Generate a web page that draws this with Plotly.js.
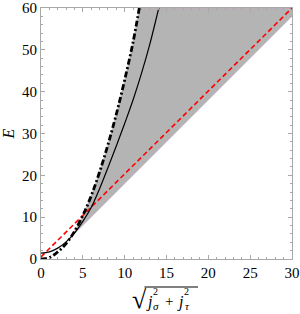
<!DOCTYPE html>
<html>
<head>
<meta charset="utf-8">
<script src="https://cdn.plot.ly/plotly-3.0.1.min.js"></script>
<style>html,body{margin:0;padding:0;background:#fff;}#chart{width:300px;height:314px;}</style>
</head>
<body>
<div id="chart"></div>
<script>
// Upper boundary (dash-dot curve)
const ddJ = [0, 0.5, 1, 1.5, 2, 2.5, 3, 3.5, 4, 5, 6, 7, 8, 9, 10, 11, 11.75];
const ddE = [0, 0.08, 0.35, 0.9, 1.7, 2.6, 3.7, 5.0, 6.6, 10.4, 15.1, 20.8, 27.3, 34.6, 42.8, 51.8, 60];
// Solid black curve
const solidJ = [0, 1, 2, 3, 4, 5, 6, 7, 8, 9, 10, 11, 12, 13, 14, 14.1];
const solidE = [1.4, 1.7, 2.6, 4.1, 6.2, 9.0, 12.3, 16.8, 21.8, 27.0, 32.4, 38.0, 44.3, 51.3, 59.3, 60];
// Red dashed line
const redJ = [0, 30];
const redE = [0.5, 60];
// Lower edge of the shaded region
const lowJ = [3.5, 30];
const lowE = [5.0, 58];
const topE = 60;
// Axis ticks
const xTicks = [0, 5, 10, 15, 20, 25, 30];
const yTicks = [0, 10, 20, 30, 40, 50, 60];

// shaded polygon
const polyJ = [], polyE = [];
for (let i = 0; i < ddJ.length; i++) {
  if (ddJ[i] >= lowJ[0]) { polyJ.push(ddJ[i]); polyE.push(ddE[i]); }
}
polyJ.push(lowJ[1]); polyE.push(topE);
polyJ.push(lowJ[1]); polyE.push(lowE[1]);
polyJ.push(lowJ[0]); polyE.push(lowE[0]);

const traces = [
  {x: polyJ, y: polyE, mode: 'lines', fill: 'toself', fillcolor: 'rgb(180,180,180)',
   line: {color: 'rgba(200,160,200,0.8)', width: 0.6}, hoverinfo: 'skip'},
  {x: redJ, y: redE, mode: 'lines', line: {color: 'rgb(255,0,0)', width: 1.6, dash: '5px,3px'}},
  {x: solidJ, y: solidE, mode: 'lines', line: {color: 'black', width: 1.2, shape: 'spline'}},
  {x: ddJ, y: ddE, mode: 'lines', line: {color: 'black', width: 2.8, dash: '6px,2.5px,2px,2.5px', shape: 'spline'}}
];

const serif = 'Liberation Serif';
const axisCommon = {
  showline: true, linecolor: '#a8a8a8', linewidth: 1, mirror: 'ticks',
  ticks: 'inside', ticklen: 4, tickwidth: 1, tickcolor: '#a8a8a8',
  showgrid: false, zeroline: false, fixedrange: true,
  ticklabeloverflow: 'allow',
  tickfont: {family: serif, size: 15, color: 'black'}
};

// pixel -> paper helpers (plot area: x 41..292, y 8..259)
const px = X => (X - 41) / 251;
const py = Y => (259 - Y) / 251;

const ann = (X, Y, text, size, italic) => ({
  xref: 'paper', yref: 'paper', x: px(X), y: py(Y), xanchor: 'center', yanchor: 'middle',
  text: italic ? '<i>' + text + '</i>' : text, showarrow: false,
  font: {family: serif, size: size, color: 'black'}
});

const layout = {
  width: 300, height: 314,
  margin: {l: 41, r: 8, t: 8, b: 55},
  paper_bgcolor: 'white', plot_bgcolor: 'white',
  font: {family: serif, color: 'black'},
  showlegend: false,
  xaxis: Object.assign({}, axisCommon, {
    range: [0, 30], tickvals: xTicks,
    minor: {dtick: 1, ticks: 'inside', ticklen: 2, tickcolor: '#a8a8a8', showgrid: false}
  }),
  yaxis: Object.assign({}, axisCommon, {
    range: [0, 60], tickvals: yTicks,
    minor: {dtick: 2, ticks: 'inside', ticklen: 2, tickcolor: '#a8a8a8', showgrid: false},
    title: {text: '<i>E</i>', font: {family: serif, size: 16, color: 'black'}, standoff: 6}
  }),
  annotations: [
    ann(139, 299, '√', 26, false),
    ann(149, 302, 'j', 16, true),
    ann(155.5, 292, '2', 10, false),
    ann(156, 306, 'σ', 11, true),
    ann(169, 301, '+', 15, false),
    ann(180, 302, 'j', 16, true),
    ann(186.5, 292, '2', 10, false),
    ann(187, 306, 'τ', 11, true)
  ],
  shapes: [
    {type: 'line', xref: 'paper', yref: 'paper', x0: px(144.5), x1: px(198), y0: py(287), y1: py(287),
     line: {color: 'black', width: 1}}
  ]
};

Plotly.newPlot('chart', traces, layout, {displayModeBar: false, staticPlot: true});
</script>
</body>
</html>
